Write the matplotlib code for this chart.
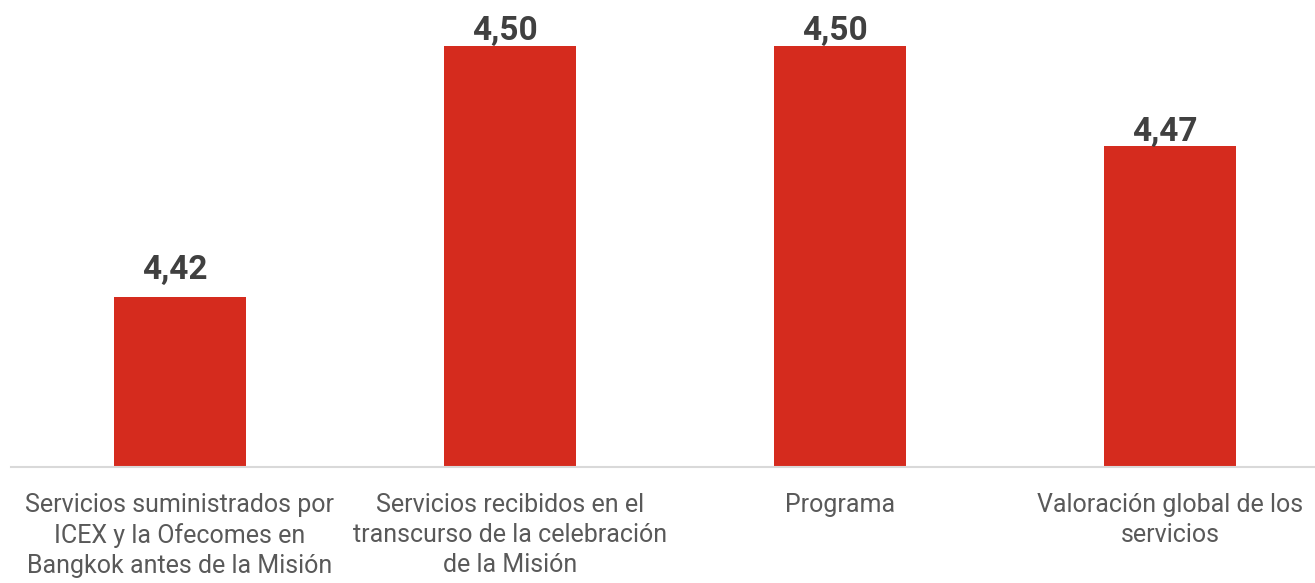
import numpy as np
import matplotlib
matplotlib.use("Agg")
import matplotlib.pyplot as plt

# categories and average scores (bar heights)
categorias = [
    "Servicios suministrados por\nICEX y la Ofecomes en\nBangkok antes de la Misión",
    "Servicios recibidos en el\ntranscurso de la celebración\nde la Misión",
    "Programa",
    "Valoración global de los\nservicios",
]
valores = [4.4167, 4.50, 4.50, 4.4667]

plt.rcParams['font.family'] = ['Roboto', 'DejaVu Sans']

fig = plt.figure(figsize=(13.15, 5.83), dpi=100)
ax = fig.add_axes([11/1315, (583-467)/583, (1315-11)/1315, 467/583])

x = np.arange(len(categorias))
bars = ax.bar(x, valores, width=0.4, color='#D52B1E', zorder=2)

ax.set_xlim(-0.5 - 4/330, 3 + 145/330)
ax.set_ylim(4.3603, 4.5 + 46/3012)

# data labels above the bars
offsets = [8, -1, -1, -1]
for b, v, off in zip(bars, valores, offsets):
    ax.annotate(f"{v:.2f}".replace('.', ','),
                (b.get_x() + b.get_width()/2, v),
                xytext=(-4, off), textcoords='offset points',
                ha='center', va='bottom', fontsize=24, fontweight='bold',
                color='#404040')

ax.set_xticks(x)
ax.set_xticklabels(categorias, fontsize=18, color='#595959', linespacing=1.3)
ax.tick_params(axis='x', length=0, pad=19)
ax.set_yticks([])

for s in ['top', 'right', 'left']:
    ax.spines[s].set_visible(False)
ax.spines['bottom'].set_color('#D9D9D9')
ax.spines['bottom'].set_linewidth(1.5)

fig.savefig("out.png", dpi=100)
